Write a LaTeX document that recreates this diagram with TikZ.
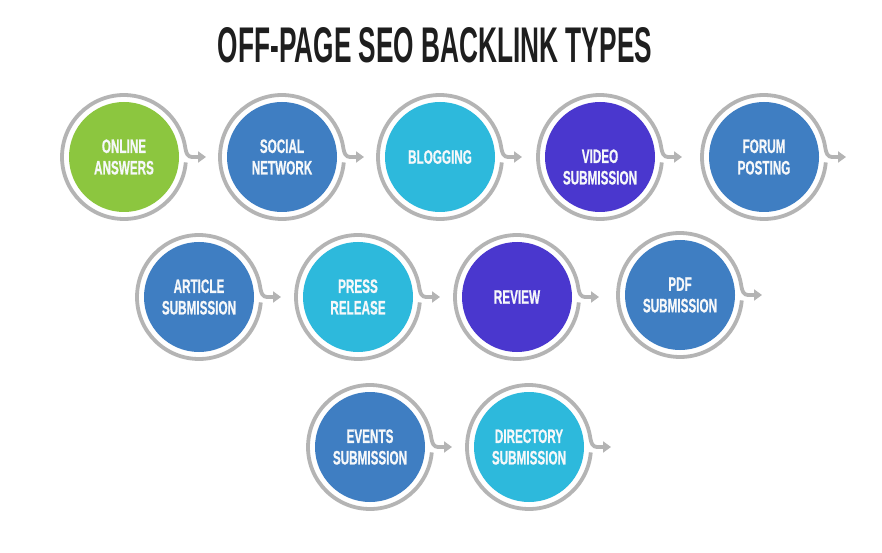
\documentclass[tikz,border=0pt]{standalone}
\usepackage{fontspec}
\usepackage{graphicx}
\usetikzlibrary{arrows.meta}
\newfontfamily\labfont[FakeStretch=0.6,FakeBold=0.6]{Liberation Sans}
\newfontfamily\titfont{Liberation Sans}
\definecolor{cgreen}{HTML}{8CC63F}
\definecolor{cblue}{HTML}{3F7EC2}
\definecolor{ccyan}{HTML}{2DB9DC}
\definecolor{cpurple}{HTML}{4A37CE}
\definecolor{ringgray}{HTML}{B4B4B4}
\definecolor{titgray}{HTML}{1E1E1E}
\definecolor{labwhite}{HTML}{F6F8FA}
\tikzset{
  disc/.style={circle, minimum size=110pt, inner sep=0pt, text=labwhite, align=center,
    font=\labfont\bfseries\fontsize{19.5}{21.5}\selectfont},
  disctext/.style={text=labwhite, align=center, inner sep=0pt,
    font=\labfont\bfseries\fontsize{19.5}{21.5}\selectfont},
  ringline/.style={draw=ringgray, line width=3.8pt, -{Triangle[length=8pt,width=11pt]}},
}
\newcommand\ringat[1]{%
  \draw[ringline] ([shift={(-5:62)}]#1.center)
    arc[start angle=-5, end angle=-352, radius=62]
    .. controls +(-82:5) and +(180:4) .. ([xshift=68pt]#1.center)
    -- ([xshift=82pt]#1.center);}
\begin{document}
\begin{tikzpicture}[x=1pt,y=1pt]
\useasboundingbox[fill=white] (0,0) rectangle (882,552);
\node[text=titgray, font=\titfont\bfseries, inner sep=0pt] (title) at (435,506.5)
  {\resizebox{434pt}{35pt}{OFF-PAGE SEO BACKLINK TYPES}};
% row 1
\node[disc, fill=cgreen]  (n1) at (124,395) {ONLINE\\ANSWERS};
\node[disc, fill=cblue]   (n2) at (282,395) {SOCIAL\\NETWORK};
\node[disc, fill=ccyan]   (n3) at (440,395) {BLOGGING};
\node[disc, fill=cpurple] (n4) at (600,395) {};
\node[disctext] (n4t) at ([yshift=-10pt]n4.center) {VIDEO\\SUBMISSION};
\node[disc, fill=cblue]   (n5) at (764,395) {FORUM\\POSTING};
% row 2
\node[disc, fill=cblue]   (m1) at (199,255) {ARTICLE\\SUBMISSION};
\node[disc, fill=ccyan]   (m2) at (358,255) {PRESS\\RELEASE};
\node[disc, fill=cpurple] (m3) at (517,255) {REVIEW};
\node[disc, fill=cblue]   (m4) at (680,257) {PDF\\SUBMISSION};
% row 3
\node[disc, fill=cblue]   (k1) at (370,105) {EVENTS\\SUBMISSION};
\node[disc, fill=ccyan]   (k2) at (529,105) {DIRECTORY\\SUBMISSION};
\foreach \n in {n1,n2,n3,n4,n5,m1,m2,m3,m4,k1,k2}{\ringat{\n}}
\end{tikzpicture}
\end{document}
